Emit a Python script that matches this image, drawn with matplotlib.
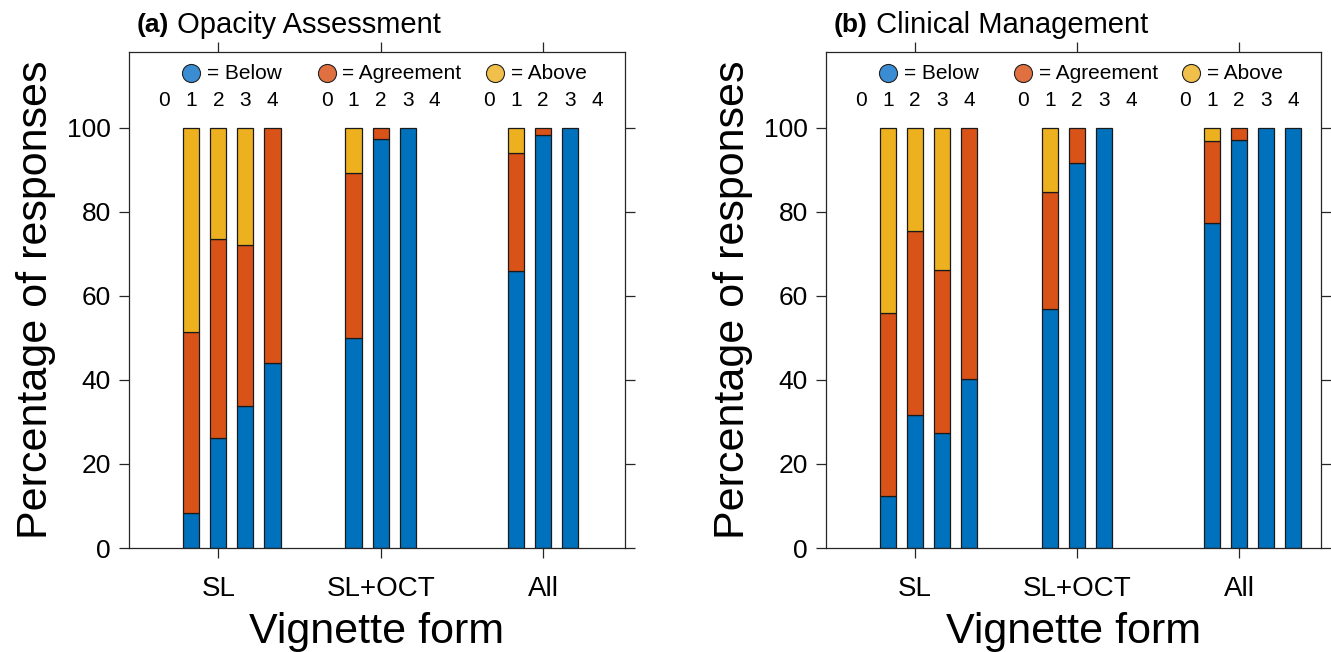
import numpy as np
import matplotlib
matplotlib.use("Agg")
import matplotlib.pyplot as plt

plt.rcParams['font.family'] = ['Liberation Sans', 'DejaVu Sans']

groups = ['SL', 'SL+OCT', 'All']
ratings = ['0', '1', '2', '3', '4']
titles = [('(a)', 'Opacity Assessment'), ('(b)', 'Clinical Management')]
categories = ['Below', 'Agreement', 'Above']

# segment heights (%), rows = vignette form, cols = rating 0..4
below_a = [[0, 8.3, 26.2, 33.9, 43.9],
           [0, 50.0, 97.2, 100, 0],
           [0, 65.9, 98.2, 100, 0]]
agree_a = [[0, 43.2, 47.2, 38.2, 56.1],
           [0, 39.2, 2.8, 0, 0],
           [0, 28.0, 1.8, 0, 0]]
above_a = [[0, 48.5, 26.6, 27.9, 0],
           [0, 10.8, 0, 0, 0],
           [0, 6.1, 0, 0, 0]]

below_b = [[0, 12.3, 31.7, 27.4, 40.1],
           [0, 56.8, 91.6, 100, 0],
           [0, 77.3, 97.1, 100, 100]]
agree_b = [[0, 43.7, 43.7, 38.7, 59.9],
           [0, 28.0, 8.4, 0, 0],
           [0, 19.6, 2.9, 0, 0]]
above_b = [[0, 44.0, 24.6, 33.9, 0],
           [0, 15.2, 0, 0, 0],
           [0, 3.1, 0, 0, 0]]

colors = ['#0072BD', '#D95319', '#EDB120']
legend_colors = ['#3A8DD2', '#E0703F', '#F0C04A']

fig = plt.figure(figsize=(13.31, 6.52), dpi=100)
ax_a = fig.add_axes([0.0969, 0.1595, 0.3727, 0.7607])
ax_b = fig.add_axes([0.6206, 0.1595, 0.3719, 0.7607])

step = 1 / 6
width = 0.1

for ax, (tag, name), series in [
        (ax_a, titles[0], (below_a, agree_a, above_a)),
        (ax_b, titles[1], (below_b, agree_b, above_b))]:
    vals = [np.array(s, dtype=float) for s in series]
    for g in range(len(groups)):
        for k in range(len(ratings)):
            x = g + (k - 2) * step
            bottom = 0
            for c in range(3):
                h = vals[c][g, k]
                if h > 0:
                    ax.bar(x, h, width=width, bottom=bottom, color=colors[c],
                           edgecolor='#1a1a1a', linewidth=0.9, zorder=2)
                    bottom += h
            # rating labels above bars
            ax.text(x, 106.4, ratings[k], ha='center', va='center', fontsize=15)

    # legend-like key
    key_x = [-0.166, 0.667, 1.705]
    for c in range(3):
        ax.plot(key_x[c], 112.9, 'o', ms=13, mfc=legend_colors[c],
                mec='#222222', mew=0.8, clip_on=False, zorder=3)
        ax.text(key_x[c] + 0.095, 112.9, '= ' + categories[c],
                ha='left', va='center', fontsize=15)

    ax.set_xlim(-0.55, 2.505)
    ax.set_ylim(0, 118)
    ax.set_xticks(range(len(groups)))
    ax.set_xticklabels(groups, fontsize=20)
    ax.set_yticks([0, 20, 40, 60, 80, 100])
    ax.tick_params(axis='y', labelsize=19)
    ax.tick_params(which='both', direction='out', length=7, width=0.9,
                   color='#262626', top=True, right=True, pad=6)
    ax.tick_params(axis='x', pad=13)
    for sp in ax.spines.values():
        sp.set_color('#262626')
        sp.set_linewidth(0.9)
    ax.set_xlabel('Vignette form', fontsize=31, labelpad=7)
    ax.set_ylabel('Percentage of responses', fontsize=31, labelpad=8)

    ax.text(-0.5, 124.5, tag, fontsize=19, fontweight='bold',
            ha='left', va='center', clip_on=False)
    ax.annotate(' ' + name, xy=(1, 0.5), xycoords=ax.texts[-1],
                ha='left', va='center', fontsize=21)

fig.savefig('out.png', dpi=100)
